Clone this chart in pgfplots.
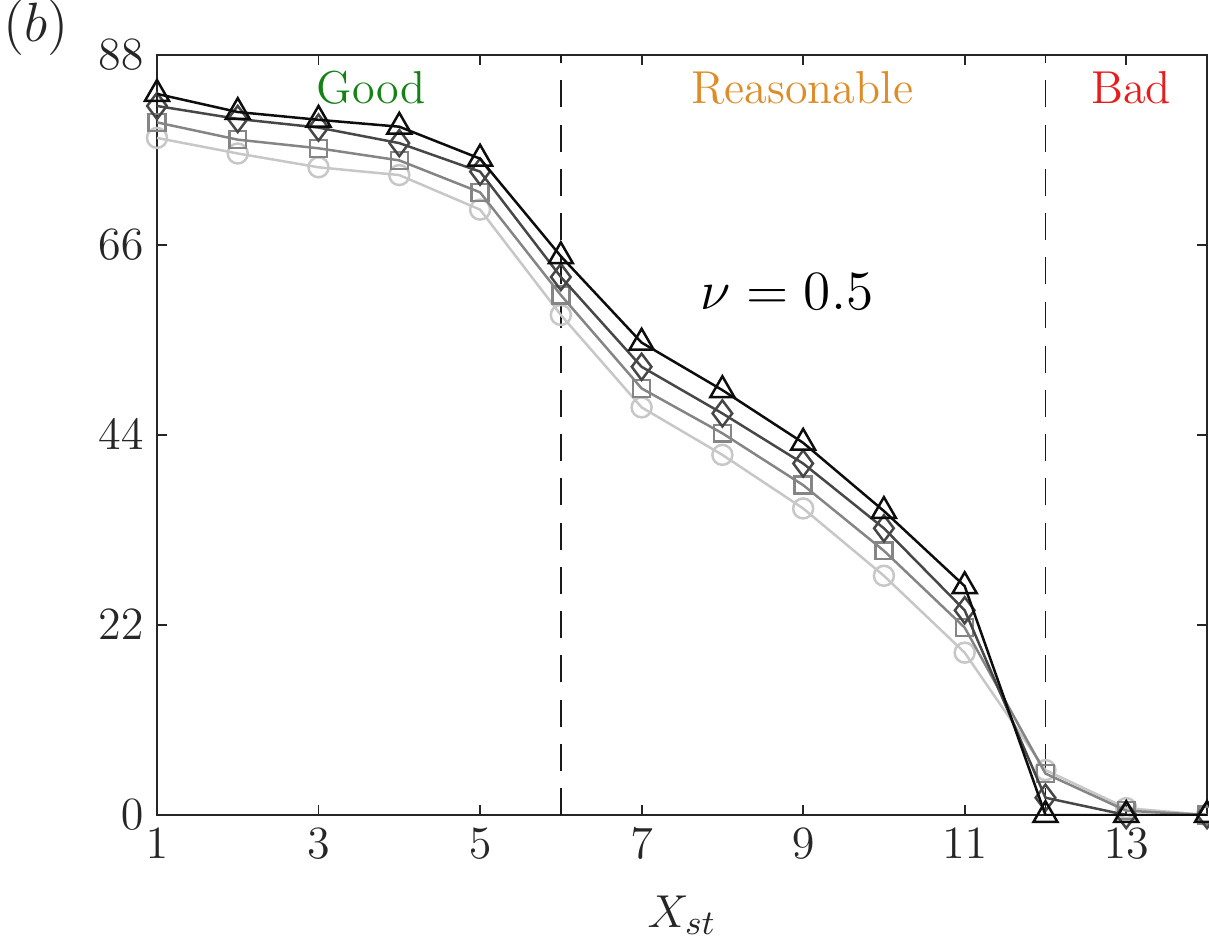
\documentclass[border=0pt]{standalone}
\usepackage{pgfplots}
\pgfplotsset{compat=1.18}
\definecolor{axgray}{gray}{0.15}
\definecolor{goodgreen}{RGB}{20,130,20}
\definecolor{reasorange}{RGB}{222,140,40}
\definecolor{badred}{RGB}{232,28,28}

\pgfplotstableread{
x   tri   dia   sq    circ
1   83.5  82.1  80.2  78.4
2   81.4  80.6  78.2  76.6
3   80.5  79.6  77.2  75.0
4   79.7  77.8  75.8  74.1
5   76.0  74.5  72.1  70.1
6   64.7  62.3  60.2  57.9
7   54.7  51.9  49.4  47.2
8   49.2  46.5  44.2  41.7
9   43.1  40.7  38.2  35.5
10  35.2  33.2  30.6  27.7
11  26.5  23.7  21.7  18.8
12  0.0   2.0   4.8   5.2
13  0.0   0.0   0.5   0.8
14  0.0   0.0   0.0   0.0
}\datatable

\begin{document}
\begin{tikzpicture}
\begin{axis}[
  scale only axis,
  width=273pt, height=197.6pt,
  xmin=1, xmax=14, ymin=0, ymax=88,
  clip mode=individual,
  xtick={1,3,...,13}, ytick={0,22,44,66,88},
  tick align=inside, major tick length=2.6pt,
  axis line style={axgray, line width=0.55pt},
  tick style={axgray, line width=0.5pt},
  tick label style={font=\fontsize{12}{14}\selectfont, text=axgray},
  xlabel={$X_{st}$},
  xlabel style={font=\fontsize{13}{15}\selectfont, text=axgray, yshift=-3pt},
]
% region separators
\addplot[gray!20!black, line width=0.45pt, dash pattern=on 7pt off 4.5pt, forget plot]
  coordinates {(6,0) (6,88)};
\addplot[gray!20!black, line width=0.45pt, dash pattern=on 7pt off 4.5pt, forget plot]
  coordinates {(12,0) (12,88)};

\addplot[color=black!22, line width=0.65pt, mark=o, mark size=2.6pt,
  mark options={solid}] table[x=x, y=circ] {\datatable};
\addplot[color=black!48, line width=0.65pt, mark=square, mark size=2.2pt,
  mark options={solid}] table[x=x, y=sq] {\datatable};
\addplot[color=black!72, line width=0.65pt, mark=diamond, mark size=3.4pt,
  mark options={solid}] table[x=x, y=dia] {\datatable};
\addplot[color=black!95, line width=0.65pt, mark=triangle, mark size=3.6pt,
  mark options={solid}] table[x=x, y=tri] {\datatable};

\node[text=goodgreen, font=\fontsize{12}{14}\selectfont] at (axis cs:3.65,84.2) {Good};
\node[text=reasorange, font=\fontsize{12}{14}\selectfont] at (axis cs:8.99,84.2) {Reasonable};
\node[text=badred, font=\fontsize{12}{14}\selectfont] at (axis cs:13.06,84.2) {Bad};
\node[font=\fontsize{14}{16}\selectfont] at (axis cs:8.8,60.6) {$\nu = 0.5$};
\node[font=\fontsize{14}{16}\selectfont, text=axgray] at (rel axis cs:-0.115,1.036) {$(b)$};

\coordinate (bbl) at (rel axis cs:-0.1495,-0.1697);
\coordinate (btr) at (rel axis cs:1.0019,1.0724);
\end{axis}
\pgfresetboundingbox
\path[use as bounding box] (bbl) rectangle (btr);
\end{tikzpicture}
\end{document}
